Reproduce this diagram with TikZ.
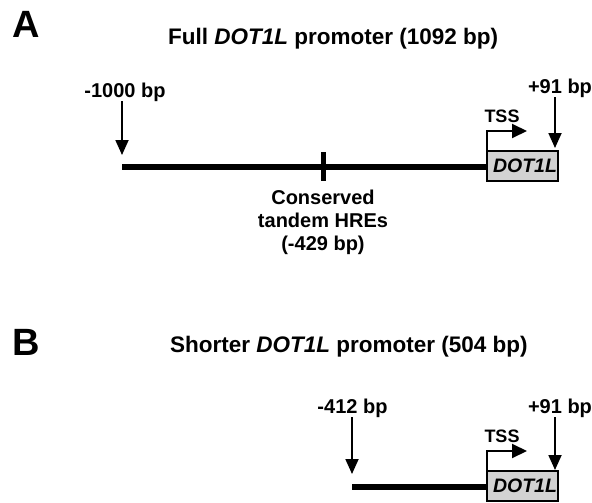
\documentclass[tikz,border=0pt]{standalone}
\usepackage{fontspec}
\setmainfont{Liberation Sans}
\usetikzlibrary{arrows.meta}

\tikzset{
  panel/.style={font=\fontsize{38}{44}\selectfont\bfseries, inner sep=0pt},
  title/.style={font=\fontsize{22.5}{26}\selectfont\bfseries, inner sep=0pt},
  bplabel/.style={font=\fontsize{20}{23}\selectfont\bfseries, inner sep=0pt},
  tsslabel/.style={font=\fontsize{18}{22}\selectfont\bfseries, inner sep=0pt},
  gene/.style={draw, line width=2pt, fill=gray!35, minimum width=71pt, minimum height=30pt,
    inner sep=0pt, font=\fontsize{19.5}{22}\selectfont\bfseries\itshape},
  hre/.style={fill=black, minimum width=5pt, minimum height=29pt, inner sep=0pt},
  dna/.style={line width=6pt},
  pointer/.style={line width=1.8pt, -{Triangle[width=13pt,length=15pt]}},
  tss/.style={line width=2pt, -{Triangle[width=14pt,length=15pt]}},
}

\begin{document}
\begin{tikzpicture}[x=1pt, y=-1pt]
\useasboundingbox (0,0) rectangle (592,503);

% panel A: full promoter
\node[panel, anchor=base] (panelA) at (26.5,38) {A};
\node[title, anchor=base west] (titleA) at (168,45) {Full \textit{DOT1L} promoter (1092 bp)};
\coordinate (startA) at (122,167);
\coordinate (tip1000) at (122,155);
\node[gene] (geneA) at (522.5,165.5) {\hspace*{5pt}DOT1L};
\draw[dna] (startA) -- (startA -| geneA.west);
\node[hre] (hreA) at (323,166.5) {};
\node[bplabel, align=center, anchor=north] (hreLabelA) at (323,190) {Conserved\\tandem HREs\\(-429 bp)};
\node[bplabel, anchor=base] (lbl1000) at (125,97) {-1000 bp};
\draw[pointer] (lbl1000.south -| tip1000) -- (tip1000);
\coordinate (tssA) at (527,131);
\draw[tss] ([xshift=1pt]geneA.north west) |- (tssA);
\node[tsslabel, anchor=base] (tssLabelA) at (502,122) {TSS};
\node[bplabel, anchor=base] (lbl91A) at (560,93) {+91 bp};
\coordinate (tip91A) at (555,148);
\draw[pointer] (lbl91A.south -| tip91A) -- (tip91A);

% panel B: shorter promoter
\node[panel, anchor=base] (panelB) at (26.5,355) {B};
\node[title, anchor=base west] (titleB) at (170,352) {Shorter \textit{DOT1L} promoter (504 bp)};
\coordinate (startB) at (352,487);
\coordinate (tip412) at (352,474);
\node[gene] (geneB) at (522.5,485.5) {\hspace*{5pt}DOT1L};
\draw[dna] (startB) -- (startB -| geneB.west);
\node[bplabel, anchor=base] (lbl412) at (352.5,413) {-412 bp};
\draw[pointer] (lbl412.south -| tip412) -- (tip412);
\coordinate (tssB) at (527,451);
\draw[tss] ([xshift=1pt]geneB.north west) |- (tssB);
\node[tsslabel, anchor=base] (tssLabelB) at (502,442) {TSS};
\node[bplabel, anchor=base] (lbl91B) at (560,413) {+91 bp};
\coordinate (tip91B) at (555,470);
\draw[pointer] (lbl91B.south -| tip91B) -- (tip91B);
\end{tikzpicture}
\end{document}
